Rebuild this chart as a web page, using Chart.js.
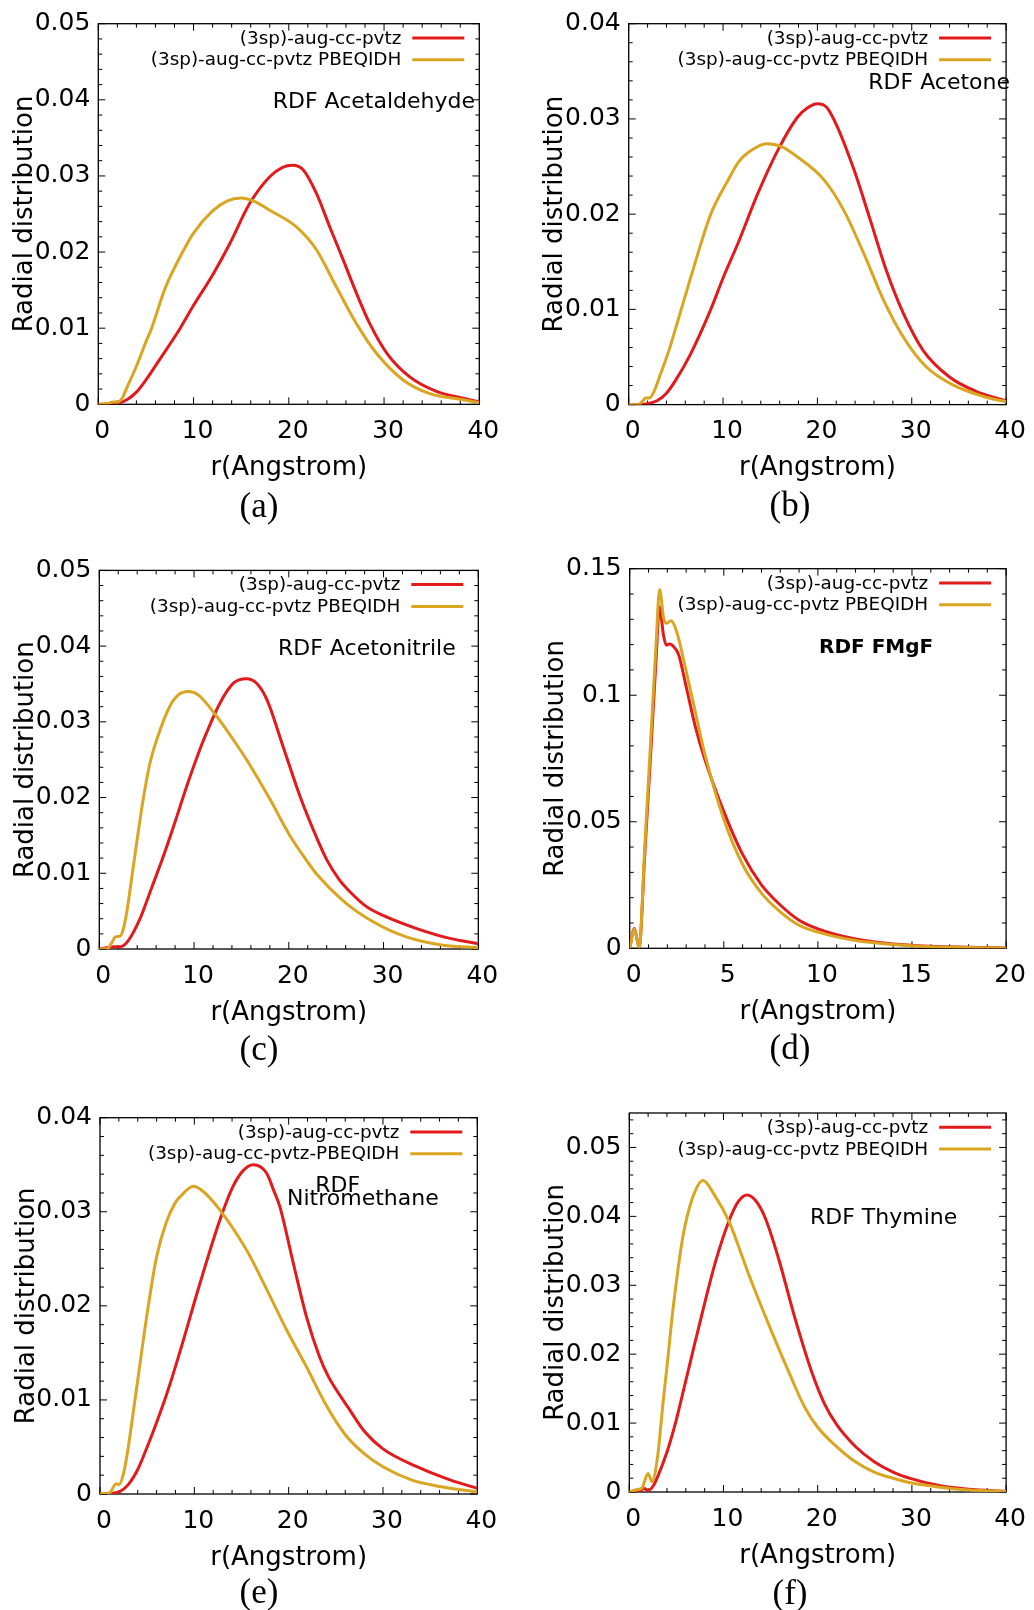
<!DOCTYPE html>
<html>
<head>
<meta charset="utf-8">
<script src="https://cdn.jsdelivr.net/npm/chart.js@4.4.1/dist/chart.umd.min.js"></script>
<style>
html,body{margin:0;padding:0;background:#fff;}
#page{position:relative;width:1034px;height:1610px;overflow:hidden;background:#fff;}
#page canvas{position:absolute;}
.cap{position:absolute;font-family:'Liberation Serif',serif;font-size:35px;line-height:1;transform:translate(-50%,-50%);color:#000;white-space:nowrap;}
</style>
</head>
<body>
<div id="page"></div>
<script>
// ---------- tick values & labels ----------
const xTicks40 = [0, 10, 20, 30, 40];
const xLabels40 = ['0', '10', '20', '30', '40'];
const xTicks20 = [0, 5, 10, 15, 20];
const xLabels20 = ['0', '5', '10', '15', '20'];
const yTicks05 = [0, 0.01, 0.02, 0.03, 0.04, 0.05];
const yLabels05 = ['0', '0.01', '0.02', '0.03', '0.04', '0.05'];
const yTicks04 = [0, 0.01, 0.02, 0.03, 0.04];
const yLabels04 = ['0', '0.01', '0.02', '0.03', '0.04'];
const yTicks15 = [0, 0.05, 0.1, 0.15];
const yLabels15 = ['0', '0.05', '0.1', '0.15'];

const seriesNames = ['(3sp)-aug-cc-pvtz', '(3sp)-aug-cc-pvtz PBEQIDH'];
const seriesNamesE = ['(3sp)-aug-cc-pvtz', '(3sp)-aug-cc-pvtz-PBEQIDH'];

// ---------- (a) Acetaldehyde ----------
const aRedX = [0, 1, 2, 3, 4, 5, 6.5, 8.6, 10, 12, 13.8, 15.9, 18, 19.3, 20.4, 21.5, 22.9, 24.3, 25.7, 27.1, 28.5, 30.3, 32.7, 35.5, 38.3, 40];
const aRedY = [0, 0, 0.0001, 0.0006, 0.0016, 0.0032, 0.006, 0.0100, 0.0130, 0.0170, 0.0211, 0.0264, 0.0299, 0.0311, 0.0314, 0.0308, 0.0277, 0.0233, 0.0190, 0.0146, 0.0106, 0.0067, 0.0036, 0.0017, 0.0008, 0.0003];
const aGoldX = [0, 1, 1.5, 2, 2.5, 3, 4, 5, 5.6, 7, 8.85, 10, 12, 13.5, 15, 16.5, 18, 20.8, 22.9, 25, 27.1, 29.2, 32, 34.8, 38.3, 40];
const aGoldY = [0, 0.0001, 0.0003, 0.0003, 0.0008, 0.0022, 0.005, 0.0082, 0.010, 0.0152, 0.020, 0.0225, 0.0254, 0.0267, 0.0271, 0.0266, 0.0255, 0.0233, 0.0203, 0.0154, 0.0106, 0.0067, 0.0032, 0.0014, 0.0006, 0.0002];

// ---------- (b) Acetone ----------
const bRedX = [0, 1, 2, 3, 4, 5, 6.5, 8.7, 10, 11.65, 13.7, 15.8, 17.9, 19, 20, 21, 22.1, 23.9, 25.6, 27.3, 29.1, 31.2, 34, 36.8, 40];
const bRedY = [0, 0, 0.0001, 0.0004, 0.0012, 0.0026, 0.0052, 0.010, 0.0133, 0.0171, 0.0222, 0.0267, 0.0302, 0.0312, 0.0316, 0.0312, 0.0292, 0.0246, 0.0194, 0.0141, 0.0096, 0.0057, 0.0029, 0.0014, 0.0004];
const bGoldX = [0, 1, 1.5, 1.8, 2.2, 2.6, 3.3, 4.3, 5, 5.6, 6.8, 8.7, 10.6, 11.65, 12.7, 14.6, 16.2, 17.9, 20.7, 22.8, 24.9, 27, 29.1, 31.5, 34.3, 37.8, 40];
const bGoldY = [0, 0, 0.0004, 0.0007, 0.0007, 0.0012, 0.003, 0.0058, 0.0081, 0.0101, 0.0141, 0.020, 0.0237, 0.0255, 0.0265, 0.0274, 0.0271, 0.026, 0.0236, 0.0204, 0.0159, 0.011, 0.0071, 0.004, 0.0021, 0.0008, 0.0003];

// ---------- (c) Acetonitrile ----------
const cRedX = [0, 1, 1.5, 2.2, 3, 4.3, 5.5, 6.75, 8, 9.2, 10.3, 11.3, 12.7, 14.15, 15.5, 16.6, 17.7, 19.4, 21.2, 22.6, 24, 25.3, 26.5, 28.2, 30, 33.5, 37, 40];
const cRedY = [0, 0.0002, 0.0003, 0.0003, 0.001, 0.004, 0.008, 0.0122, 0.0168, 0.0214, 0.0253, 0.0285, 0.0324, 0.0351, 0.0357, 0.0351, 0.0329, 0.0267, 0.0201, 0.0157, 0.0118, 0.0092, 0.0075, 0.0056, 0.0044, 0.0027, 0.0014, 0.0007];
const cGoldX = [0, 0.8, 1.3, 1.7, 2.2, 2.5, 2.9, 3.6, 4.6, 5.3, 6.1, 7.5, 8.5, 9.4, 10.5, 12.4, 14, 15.6, 18, 20.1, 21.7, 23, 25.8, 28.9, 32.4, 36.3, 40];
const cGoldY = [0, 0, 0.0008, 0.0016, 0.0017, 0.0025, 0.0049, 0.011, 0.0195, 0.0243, 0.0278, 0.0322, 0.0337, 0.034, 0.0335, 0.0307, 0.0279, 0.0249, 0.0198, 0.015, 0.012, 0.0098, 0.0063, 0.0036, 0.0016, 0.0005, 0.0002];

// ---------- (d) FMgF ----------
const dRedX = [0, 0.25, 0.5, 0.8, 1.1, 1.4, 1.58, 1.8, 1.95, 2.1, 2.3, 2.6, 3, 3.5, 4, 5, 6, 7, 8, 9, 10, 12, 14, 16, 18, 20];
const dRedY = [0, 0.0078, 0.0004, 0.037, 0.075, 0.114, 0.135, 0.1235, 0.1198, 0.1202, 0.1195, 0.116, 0.1034, 0.0872, 0.0745, 0.054, 0.0371, 0.0251, 0.0171, 0.0111, 0.0077, 0.0037, 0.0017, 0.0008, 0.0004, 0.0001];
const dGoldX = [0, 0.25, 0.5, 0.8, 1.1, 1.4, 1.59, 1.8, 1.94, 2.2, 2.5, 3, 3.5, 4, 5, 6, 7, 8, 9, 10, 12, 14, 16, 18, 20];
const dGoldY = [0, 0.0075, 0.0004, 0.04, 0.08, 0.12, 0.1418, 0.1305, 0.1284, 0.1294, 0.125, 0.1095, 0.093, 0.0765, 0.051, 0.0331, 0.0218, 0.0144, 0.0091, 0.0064, 0.0031, 0.0015, 0.0006, 0.0003, 0.0001];

// ---------- (e) Nitromethane ----------
const eRedX = [0, 1, 1.5, 2, 3, 4, 5, 6, 7.2, 8.5, 10.6, 12.7, 14.1, 15.2, 16.25, 17.67, 18.4, 19.08, 20.5, 21.9, 23.3, 24.2, 25.1, 26.3, 28, 30, 33.6, 37.1, 40];
const eRedY = [0, 0, 0.0001, 0.0002, 0.001, 0.0026, 0.005, 0.0076, 0.011, 0.0152, 0.0224, 0.0291, 0.0327, 0.0344, 0.035, 0.0341, 0.0323, 0.0305, 0.0245, 0.0188, 0.0145, 0.0125, 0.011, 0.0092, 0.0067, 0.0048, 0.0029, 0.0015, 0.0006];
const eGoldX = [0, 1, 1.7, 2, 2.5, 3, 3.5, 4, 5, 6, 7, 8, 8.5, 9.9, 11, 12.7, 15.55, 17.7, 19.8, 21.9, 24, 26, 28, 30, 33, 36, 40];
const eGoldY = [0, 0.0001, 0.0011, 0.001, 0.0022, 0.005, 0.0085, 0.0121, 0.0192, 0.0252, 0.0288, 0.031, 0.0316, 0.0327, 0.0321, 0.0302, 0.0259, 0.0217, 0.0174, 0.0135, 0.0094, 0.0063, 0.0043, 0.0029, 0.0015, 0.0008, 0.0002];

// ---------- (f) Thymine ----------
const fRedX = [0, 1, 1.6, 2, 2.5, 3, 4, 4.9, 5.32, 6.5, 7.8, 9.17, 10.57, 11.6, 12.49, 13.4, 14.42, 15.82, 17.57, 19.32, 20.72, 22, 24, 26, 28, 30, 33, 36, 40];
const fRedY = [0, 0.0001, 0.0005, 0.0002, 0.0008, 0.0022, 0.0058, 0.010, 0.0123, 0.019, 0.0263, 0.0335, 0.0393, 0.0422, 0.0431, 0.0423, 0.0398, 0.034, 0.0253, 0.0176, 0.0128, 0.0098, 0.0066, 0.0044, 0.0029, 0.0019, 0.0009, 0.0004, 0.0001];
const fGoldX = [0, 1, 1.3, 2, 2.4, 3, 3.57, 4.1, 4.62, 5.67, 6.72, 7.84, 9, 10.57, 12.67, 14.77, 16.87, 18.62, 20, 22, 24, 26, 28, 30, 33, 36, 40];
const fGoldY = [0, 0.0004, 0.0005, 0.0027, 0.0015, 0.0051, 0.0128, 0.0195, 0.0263, 0.0369, 0.0427, 0.0452, 0.0432, 0.0393, 0.0316, 0.0244, 0.0176, 0.0123, 0.0094, 0.0066, 0.0044, 0.0029, 0.002, 0.0013, 0.0007, 0.0003, 0.0001];

// ---------- styling / layout ----------
const RED = '#e31a1c';
const GOLD = '#daa520';
const CW = 517, CH = 490;
const FONT = "'DejaVu Sans', sans-serif";
Chart.defaults.font.family = FONT;
Chart.defaults.color = '#000';

const panels = [
  {ox: 0, oy: 0, area: [98.3, 23.7, 479.3, 404.3], xMax: 40, xMinor: 2, xT: xTicks40, xL: xLabels40,
   yMax: 0.05, yMinor: 0.002, yT: yTicks05, yL: yLabels05, red: [aRedX, aRedY], gold: [aGoldX, aGoldY], names: seriesNames,
   notes: [{t: 'RDF Acetaldehyde', x: 475, y: 108.2, align: 'right'}], cap: ['(a)', 259, 505]},
  {ox: 517, oy: 0, area: [628.7, 23.7, 1011, 404.6], xMax: 40, xMinor: 2, xT: xTicks40, xL: xLabels40,
   yMax: 0.04, yMinor: 0.002, yT: yTicks04, yL: yLabels04, red: [bRedX, bRedY], gold: [bGoldX, bGoldY], names: seriesNames,
   notes: [{t: 'RDF Acetone', x: 493, y: 88.6, align: 'right'}], cap: ['(b)', 790, 504]},
  {ox: 0, oy: 540, area: [99.3, 570.4, 478.3, 949], xMax: 40, xMinor: 2, xT: xTicks40, xL: xLabels40,
   yMax: 0.05, yMinor: 0.002, yT: yTicks05, yL: yLabels05, red: [cRedX, cRedY], gold: [cGoldX, cGoldY], names: seriesNames,
   notes: [{t: 'RDF Acetonitrile', x: 278, y: 114.9, align: 'left'}], cap: ['(c)', 259, 1048]},
  {ox: 517, oy: 540, area: [629.7, 568.7, 1010.3, 948.3], xMax: 20, xMinor: 1, xT: xTicks20, xL: xLabels20,
   yMax: 0.15, yMinor: 0.01, yT: yTicks15, yL: yLabels15, red: [dRedX, dRedY], gold: [dGoldX, dGoldY], names: seriesNames,
   notes: [{t: 'RDF FMgF', x: 302, y: 113.2, align: 'left', bold: true, size: 20}], cap: ['(d)', 790, 1047]},
  {ox: 0, oy: 1090, area: [100, 1117.7, 477.3, 1494], xMax: 40, xMinor: 2, xT: xTicks40, xL: xLabels40,
   yMax: 0.04, yMinor: 0.002, yT: yTicks04, yL: yLabels04, red: [eRedX, eRedY], gold: [eGoldX, eGoldY], names: seriesNamesE,
   notes: [{t: 'RDF', x: 337.7, y: 101.7, align: 'center'}, {t: 'Nitromethane', x: 287, y: 115, align: 'left'}], cap: ['(e)', 259, 1591]},
  {ox: 517, oy: 1090, area: [629.3, 1112.3, 1010.3, 1492], xMax: 40, xMinor: 2, xT: xTicks40, xL: xLabels40,
   yMax: 0.055, yMinor: 0.002, yT: yTicks05, yL: yLabels05, red: [fRedX, fRedY], gold: [fGoldX, fGoldY], names: seriesNames,
   notes: [{t: 'RDF Thymine', x: 293, y: 134, align: 'left'}], cap: ['(f)', 790, 1592]}
];

const deco = {
  id: 'rdfDeco',
  beforeDatasetsDraw(chart) {
    const {ctx, chartArea: a} = chart;
    const o = chart.options.plugins.rdfDeco;
    const xs = chart.scales.x, ys = chart.scales.y;
    ctx.save();
    ctx.strokeStyle = '#000';
    ctx.lineWidth = 1;
    ctx.beginPath();
    const nx = Math.floor((xs.max - xs.min) / o.xMinor + 1e-6);
    for (let i = 0; i <= nx; i++) {
      const px = xs.getPixelForValue(xs.min + i * o.xMinor);
      const L = (i % 5 === 0) ? 7 : 4;
      ctx.moveTo(px, a.bottom); ctx.lineTo(px, a.bottom - L);
      ctx.moveTo(px, a.top); ctx.lineTo(px, a.top + L);
    }
    const ny = Math.floor((ys.max - ys.min) / o.yMinor + 1e-6);
    for (let i = 0; i <= ny; i++) {
      const py = ys.getPixelForValue(ys.min + i * o.yMinor);
      const L = (i % 5 === 0) ? 7 : 4;
      ctx.moveTo(a.left, py); ctx.lineTo(a.left + L, py);
      ctx.moveTo(a.right, py); ctx.lineTo(a.right - L, py);
    }
    ctx.stroke();
    ctx.lineWidth = 1.3;
    ctx.strokeRect(a.left, a.top, a.right - a.left, a.bottom - a.top);
    ctx.restore();
  },
  afterDatasetsDraw(chart) {
    const {ctx, chartArea: a} = chart;
    const o = chart.options.plugins.rdfDeco;
    ctx.save();
    chart.data.datasets.forEach((d, k) => {
      const yy = a.top + 14.2 + k * 21.8;
      ctx.strokeStyle = d.borderColor;
      ctx.lineWidth = 3;
      ctx.beginPath();
      ctx.moveTo(a.right - 67, yy); ctx.lineTo(a.right - 15, yy);
      ctx.stroke();
      ctx.fillStyle = '#000';
      ctx.font = '18.4px ' + FONT;
      ctx.textAlign = 'right';
      ctx.textBaseline = 'middle';
      ctx.fillText(d.label, a.right - 78, yy + 1);
    });
    o.notes.forEach(n => {
      ctx.fillStyle = '#000';
      ctx.font = (n.bold ? 'bold ' : '') + (n.size || 22) + 'px ' + FONT;
      ctx.textAlign = n.align;
      ctx.textBaseline = 'alphabetic';
      ctx.fillText(n.t, n.x, n.y);
    });
    ctx.restore();
  }
};

const page = document.getElementById('page');
panels.forEach(p => {
  const cv = document.createElement('canvas');
  cv.width = CW; cv.height = CH;
  cv.style.left = p.ox + 'px'; cv.style.top = p.oy + 'px';
  cv.style.width = CW + 'px'; cv.style.height = CH + 'px';
  page.appendChild(cv);
  const l = p.area[0] - p.ox, t = p.area[1] - p.oy, r = p.area[2] - p.ox, b = p.area[3] - p.oy;
  const XH = 80;
  const mk = (xs, ys) => xs.map((x, i) => ({x: x, y: ys[i]}));
  new Chart(cv, {
    type: 'line',
    data: {
      datasets: [
        {label: p.names[0], data: mk(p.red[0], p.red[1]), borderColor: RED, borderWidth: 3, pointRadius: 0, fill: false, cubicInterpolationMode: 'monotone', order: 1},
        {label: p.names[1], data: mk(p.gold[0], p.gold[1]), borderColor: GOLD, borderWidth: 3, pointRadius: 0, fill: false, cubicInterpolationMode: 'monotone', order: 0}
      ]
    },
    options: {
      responsive: false,
      animation: false,
      devicePixelRatio: 1,
      layout: {padding: {left: 0, top: t, right: CW - r, bottom: CH - b - XH}},
      plugins: {
        legend: {display: false},
        tooltip: {enabled: false},
        rdfDeco: {xMinor: p.xMinor, yMinor: p.yMinor, notes: p.notes}
      },
      scales: {
        x: {
          type: 'linear', min: 0, max: p.xMax,
          grid: {display: false, drawTicks: false},
          border: {display: false},
          afterBuildTicks: s => { s.ticks = p.xT.map(v => ({value: v})); },
          afterFit: s => { s.height = XH; },
          ticks: {font: {size: 25}, padding: 12, labelOffset: 4, maxRotation: 0, autoSkip: false,
                  callback: (v, i) => p.xL[i]},
          title: {display: true, text: 'r(Angstrom)', font: {size: 26}, padding: {top: 0, bottom: 0.4}}
        },
        y: {
          type: 'linear', min: 0, max: p.yMax,
          grid: {display: false, drawTicks: false},
          border: {display: false},
          afterBuildTicks: s => { s.ticks = p.yT.map(v => ({value: v})); },
          afterFit: s => { s.width = l; },
          ticks: {font: {size: 25}, padding: 8, autoSkip: false,
                  callback: (v, i) => p.yL[i]},
          title: {display: true, text: 'Radial distribution', font: {size: 26}, padding: {top: l - 73 - 15.6, bottom: 0}}
        }
      }
    },
    plugins: [deco]
  });
  const c = document.createElement('div');
  c.className = 'cap';
  c.textContent = p.cap[0];
  c.style.left = p.cap[1] + 'px';
  c.style.top = p.cap[2] + 'px';
  page.appendChild(c);
});
</script>
</body>
</html>
